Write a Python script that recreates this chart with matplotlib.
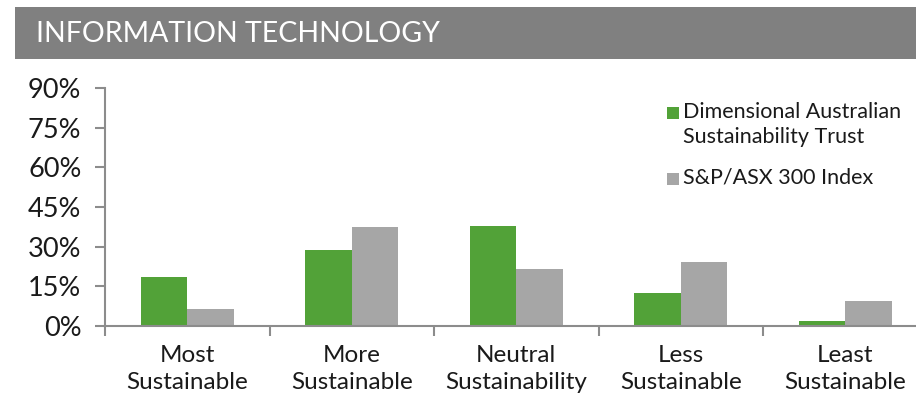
import matplotlib
matplotlib.use("Agg")
import matplotlib.pyplot as plt
from matplotlib.patches import Rectangle
import numpy as np

plt.rcParams['font.family'] = ['Lato', 'DejaVu Sans']

title = "INFORMATION TECHNOLOGY"
categories = ["Most\nSustainable", "More\nSustainable", "Neutral\nSustainability",
              "Less\nSustainable", "Least\nSustainable"]
series_names = ["Dimensional Australian\nSustainability Trust", "S&P/ASX 300 Index"]
trust_values = [18.4, 28.7, 37.8, 12.4, 1.9]
index_values = [6.4, 37.4, 21.5, 24.0, 9.4]
y_ticks = [0, 15, 30, 45, 60, 75, 90]

green = "#52a238"
grey = "#a6a6a6"
axis_grey = "#8c8c8c"
text_col = "#1a1a1a"

W, H = 916, 394
fig = plt.figure(figsize=(W / 100, H / 100), dpi=100)

# header banner
fig.patches.append(Rectangle((15 / W, 1 - 59 / H), (W - 15) / W, 52 / H,
                             transform=fig.transFigure, facecolor="#808080",
                             edgecolor="none", zorder=0))
fig.text(36 / W, 1 - 34 / H, title, color="white", fontsize=20.5,
         ha="left", va="center")

ax = fig.add_axes([105 / W, (H - 325.7) / H, 822.5 / W, 237.4 / H])
x = np.arange(len(categories))
bw = 0.284
ax.bar(x - bw / 2, trust_values, width=bw, color=green, zorder=2)
ax.bar(x + bw / 2, index_values, width=bw, color=grey, zorder=2)

ax.set_xlim(-0.5, len(categories) - 0.5)
ax.set_ylim(0, 90)
ax.set_yticks(y_ticks)
ax.set_yticklabels([f"{v}%" for v in y_ticks])
ax.set_xticks(np.arange(len(categories) + 1) - 0.5)
ax.set_xticklabels([])
ax.set_xticks(x, minor=True)
ax.set_xticklabels(categories, minor=True, linespacing=1.34)

for s in ["top", "right"]:
    ax.spines[s].set_visible(False)
for s in ["left", "bottom"]:
    ax.spines[s].set_color(axis_grey)
    ax.spines[s].set_linewidth(1.5)

ax.tick_params(axis="y", length=7, width=1.5, color=axis_grey, pad=10,
               labelsize=19.5, labelcolor=text_col)
ax.tick_params(axis="x", which="major", length=7, width=1.5, color=axis_grey)
ax.tick_params(axis="x", which="minor", length=0, pad=14,
               labelsize=17.5, labelcolor=text_col)

# legend
legend_rows = [(106.7, green, series_names[0]), (172.7, grey, series_names[1])]
for top, col, name in legend_rows:
    fig.patches.append(Rectangle((666.7 / W, 1 - (top + 12) / H), 12 / W, 12 / H,
                                 transform=fig.transFigure, facecolor=col,
                                 edgecolor="none"))
    fig.text(683 / W, 1 - (top - 5) / H, name, color=text_col, fontsize=15.5,
             ha="left", va="top", linespacing=1.32)

fig.savefig("out.png", dpi=100)
